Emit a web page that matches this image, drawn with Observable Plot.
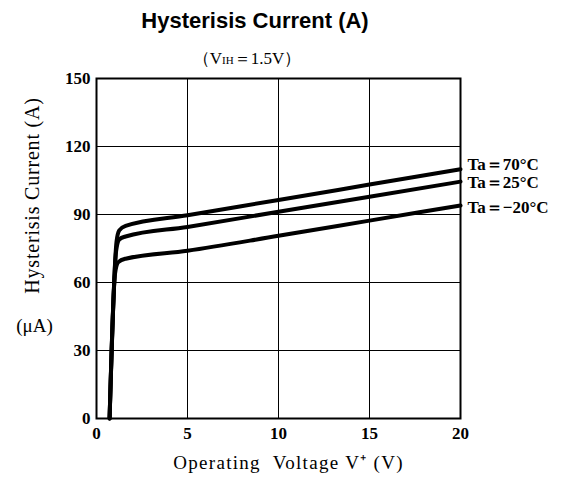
<!DOCTYPE html>
<html><head><meta charset="utf-8">
<script src="https://cdn.jsdelivr.net/npm/d3@7"></script>
<script src="https://cdn.jsdelivr.net/npm/@observablehq/plot@0.6"></script>
<style>
body{margin:0;background:#fff;width:568px;height:479px;overflow:hidden;}
#head{position:relative;height:70px;}
#title{position:absolute;left:255px;top:8px;transform:translateX(-50%);white-space:nowrap;font:bold 22px "Liberation Sans",Arial,sans-serif;color:#000;}
#sub{position:absolute;left:247px;top:47px;transform:translateX(-50%);white-space:nowrap;font:17px "Liberation Serif",serif;color:#000;}
#sub span{font-size:11px;}
.ylab text{letter-spacing:0.8px;}
.xlab text{letter-spacing:1.3px;}
</style></head>
<body>
<div id="head"><div id="title">Hysterisis Current (A)</div><div id="sub">（V<span>IH</span>＝1.5V）</div></div>
<div id="chart"></div>
<script>
const seriesNames = ["Ta＝70°C", "Ta＝25°C", "Ta＝−20°C"];
const voltage70 = [0.72, 1.1, 1.25, 1.6, 5, 10, 15, 20];
const current70 = [0, 78, 83, 85, 89.7, 96.4, 103.2, 110];
const voltage25 = [0.72, 1.08, 1.25, 1.6, 5, 10, 15, 20];
const current25 = [0, 74, 79, 80.3, 84.5, 91.2, 97.8, 104.5];
const voltageM20 = [0.72, 1.02, 1.2, 1.6, 5, 10, 15, 20];
const currentM20 = [0, 64, 69, 70.5, 74, 80.6, 87.3, 94];
const xTicks = [0, 5, 10, 15, 20];
const yTicks = [0, 30, 60, 90, 120, 150];

const rows = [];
[[voltage70, current70], [voltage25, current25], [voltageM20, currentM20]].forEach(([vs, cs], i) => {
  vs.forEach((v, j) => rows.push({series: seriesNames[i], v, c: cs[j]}));
});
const ends = seriesNames.map((s, i) => {
  const r = rows.filter(d => d.series === s);
  return {...r[r.length - 1], i};
});
const labelNudge = [1, 6, 8];

const serif = '"Liberation Serif", "Times New Roman", serif';
const chart = Plot.plot({
  width: 568, height: 409,
  marginTop: 8, marginBottom: 61, marginLeft: 96, marginRight: 108,
  style: {fontFamily: serif, background: "#fff", color: "#000", overflow: "visible"},
  x: {domain: [0, 20]},
  y: {domain: [0, 150]},
  marks: [
    Plot.gridX(xTicks, {stroke: "#000", strokeOpacity: 1, strokeWidth: 1}),
    Plot.gridY(yTicks, {stroke: "#000", strokeOpacity: 1, strokeWidth: 1}),
    Plot.line(rows, {x: "v", y: "c", z: "series", stroke: "#000", strokeWidth: 4, curve: "monotone-x", strokeLinejoin: "round"}),
    Plot.frame({stroke: "#000", strokeWidth: 2}),
    Plot.axisX({ticks: xTicks, tickSize: 0, tickPadding: 8, fontSize: 17, fontWeight: "bold", label: null}),
    Plot.axisY({ticks: yTicks, tickSize: 0, tickPadding: 6, fontSize: 17, fontWeight: "bold", label: null}),
    Plot.text(ends, {x: "v", y: "c", text: "series", textAnchor: "start", dx: 7, fontSize: 17, fontWeight: "bold", className: "endlabel"}),
    Plot.text(["Hysterisis Current (A)"], {frameAnchor: "left", textAnchor: "middle", rotate: -90, dx: -64, dy: -53, fontSize: 20, text: d => d, className: "ylab"}),
    Plot.text(["(μA)"], {x: 0, y: 41, textAnchor: "middle", dx: -62, fontSize: 19, text: d => d}),
    Plot.text(["Operating  Voltage V⁺ (V)"], {frameAnchor: "bottom", dy: 50, dx: 10, fontSize: 19, text: d => d, className: "xlab"})
  ]
});
d3.select(chart).selectAll(".endlabel text").each(function() {
  const idx = [...this.parentNode.children].indexOf(this);
  d3.select(this).attr("y", labelNudge[idx]);
});
document.getElementById("chart").appendChild(chart);
</script>
</body></html>
